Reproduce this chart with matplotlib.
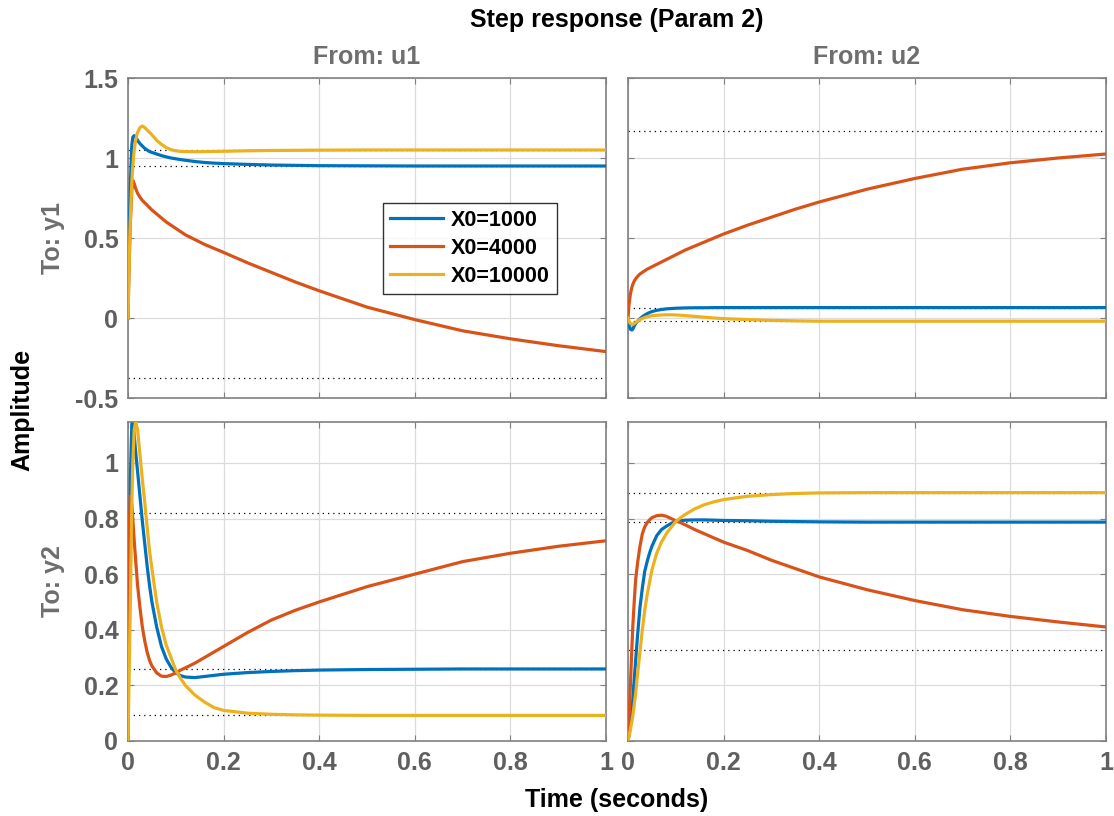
import matplotlib
matplotlib.use("Agg")
import matplotlib.pyplot as plt
import numpy as np

plt.rcParams['font.family'] = ['Liberation Sans', 'DejaVu Sans']
plt.rcParams['font.weight'] = 'bold'

# Simulation time samples (seconds)
t = [0, 0.002, 0.005, 0.008, 0.01, 0.013, 0.016, 0.02, 0.025, 0.03, 0.035,
     0.04, 0.045, 0.05, 0.06, 0.07, 0.08, 0.09, 0.1, 0.11, 0.12, 0.14, 0.16,
     0.18, 0.2, 0.25, 0.3, 0.35, 0.4, 0.5, 0.6, 0.7, 0.8, 0.9, 1.0]

series_labels = ['X0=1000', 'X0=4000', 'X0=10000']
series_colors = ['#0072BD', '#D95319', '#EDB120']
inputs = ['u1', 'u2']
outputs = ['y1', 'y2']

# u1 -> y1
y1_u1_x1000 = [0, 0.45, 0.85, 1.08, 1.13, 1.14, 1.13, 1.11, 1.09, 1.075, 1.06,
               1.05, 1.04, 1.035, 1.025, 1.015, 1.007, 1.0, 0.995, 0.99, 0.986,
               0.978, 0.972, 0.968, 0.965, 0.96, 0.956, 0.954, 0.952, 0.951,
               0.95, 0.95, 0.95, 0.95, 0.95]
y1_u1_x4000 = [0, 0.3, 0.6, 0.8, 0.86, 0.84, 0.81, 0.78, 0.755, 0.735, 0.72,
               0.705, 0.69, 0.675, 0.65, 0.625, 0.60, 0.58, 0.56, 0.54, 0.52,
               0.49, 0.46, 0.435, 0.41, 0.345, 0.285, 0.225, 0.17, 0.068,
               -0.01, -0.08, -0.13, -0.173, -0.21]
y1_u1_x10000 = [0, 0.3, 0.62, 0.85, 0.95, 1.05, 1.11, 1.16, 1.19, 1.20, 1.19,
                1.175, 1.16, 1.145, 1.11, 1.085, 1.065, 1.052, 1.045, 1.041,
                1.04, 1.039, 1.04, 1.041, 1.042, 1.045, 1.047, 1.048, 1.049,
                1.05, 1.05, 1.05, 1.05, 1.05, 1.05]

# u2 -> y1
y1_u2_x1000 = [0, -0.04, -0.07, -0.075, -0.07, -0.05, -0.035, -0.02, -0.005,
               0.008, 0.018, 0.027, 0.034, 0.04, 0.048, 0.053, 0.057, 0.059,
               0.061, 0.062, 0.063, 0.064, 0.064, 0.065, 0.065, 0.065, 0.065,
               0.065, 0.065, 0.065, 0.065, 0.065, 0.065, 0.065, 0.065]
y1_u2_x4000 = [0, 0.08, 0.15, 0.19, 0.21, 0.23, 0.245, 0.26, 0.275, 0.285,
               0.295, 0.305, 0.312, 0.32, 0.335, 0.35, 0.365, 0.38, 0.395,
               0.41, 0.425, 0.45, 0.475, 0.50, 0.525, 0.58, 0.63, 0.68, 0.725,
               0.805, 0.872, 0.93, 0.97, 1.0, 1.025]
y1_u2_x10000 = [0, -0.02, -0.035, -0.04, -0.04, -0.035, -0.028, -0.02, -0.01,
                -0.003, 0.003, 0.008, 0.011, 0.014, 0.017, 0.019, 0.02, 0.02,
                0.019, 0.017, 0.015, 0.01, 0.005, 0.0, -0.004, -0.01, -0.015,
                -0.018, -0.02, -0.02, -0.02, -0.02, -0.02, -0.02, -0.02]

# u1 -> y2
y2_u1_x1000 = [0, 0.45, 0.95, 1.14, 1.14, 1.1, 1.04, 0.97, 0.88, 0.79, 0.71,
               0.63, 0.56, 0.5, 0.41, 0.34, 0.295, 0.265, 0.245, 0.235, 0.23,
               0.228, 0.232, 0.236, 0.24, 0.246, 0.25, 0.253, 0.255, 0.257,
               0.258, 0.259, 0.259, 0.259, 0.259]
y2_u1_x4000 = [0, 0.75, 0.88, 0.85, 0.80, 0.72, 0.65, 0.56, 0.48, 0.41, 0.36,
               0.32, 0.29, 0.27, 0.245, 0.233, 0.232, 0.237, 0.245, 0.255,
               0.263, 0.28, 0.30, 0.32, 0.34, 0.39, 0.435, 0.47, 0.50, 0.555,
               0.60, 0.645, 0.675, 0.70, 0.72]
y2_u1_x10000 = [0, 0.2, 0.5, 0.85, 1.0, 1.12, 1.147, 1.12, 1.03, 0.94, 0.86,
                0.77, 0.685, 0.62, 0.5, 0.41, 0.345, 0.30, 0.255, 0.225, 0.2,
                0.165, 0.14, 0.12, 0.11, 0.1, 0.096, 0.094, 0.093, 0.092,
                0.092, 0.092, 0.092, 0.092, 0.092]

# u2 -> y2
y2_u2_x1000 = [0, 0.02, 0.06, 0.11, 0.15, 0.22, 0.29, 0.38, 0.48, 0.55, 0.61,
               0.645, 0.675, 0.70, 0.738, 0.76, 0.772, 0.782, 0.789, 0.792,
               0.794, 0.795, 0.795, 0.794, 0.793, 0.792, 0.79, 0.789, 0.788,
               0.787, 0.787, 0.787, 0.787, 0.787, 0.787]
y2_u2_x4000 = [0, 0.08, 0.2, 0.33, 0.41, 0.5, 0.58, 0.64, 0.70, 0.745, 0.77,
               0.785, 0.795, 0.803, 0.81, 0.812, 0.808, 0.80, 0.792, 0.785,
               0.777, 0.76, 0.745, 0.73, 0.715, 0.685, 0.65, 0.62, 0.59,
               0.544, 0.505, 0.472, 0.448, 0.428, 0.41]
y2_u2_x10000 = [0, 0.015, 0.04, 0.07, 0.09, 0.13, 0.17, 0.24, 0.32, 0.4, 0.47,
                0.525, 0.57, 0.615, 0.675, 0.715, 0.745, 0.768, 0.789, 0.803,
                0.815, 0.835, 0.85, 0.86, 0.868, 0.88, 0.886, 0.89, 0.892,
                0.893, 0.893, 0.893, 0.893, 0.893, 0.893]

# Steady-state values, one per series, for each channel
steady_y1_u1 = [0.95, -0.375, 1.05]
steady_y1_u2 = [0.065, 1.166, -0.02]
steady_y2_u1 = [0.259, 0.82, 0.092]
steady_y2_u2 = [0.787, 0.326, 0.893]

responses = {
    (0, 0): [y1_u1_x1000, y1_u1_x4000, y1_u1_x10000],
    (0, 1): [y1_u2_x1000, y1_u2_x4000, y1_u2_x10000],
    (1, 0): [y2_u1_x1000, y2_u1_x4000, y2_u1_x10000],
    (1, 1): [y2_u2_x1000, y2_u2_x4000, y2_u2_x10000],
}
steady = {(0, 0): steady_y1_u1, (0, 1): steady_y1_u2,
          (1, 0): steady_y2_u1, (1, 1): steady_y2_u2}

x_ticks = [0, 0.2, 0.4, 0.6, 0.8, 1]
x_ticklabels = ['0', '0.2', '0.4', '0.6', '0.8', '1']
y1_ticks = [-0.5, 0, 0.5, 1, 1.5]
y1_ticklabels = ['-0.5', '0', '0.5', '1', '1.5']
y2_ticks = [0, 0.2, 0.4, 0.6, 0.8, 1]
y2_ticklabels = ['0', '0.2', '0.4', '0.6', '0.8', '1']
y1_limits = (-0.5, 1.5)
y2_limits = (0, 1.147)

tick_gray = '#5f5f5f'
label_gray = '#6e6e6e'
spine_gray = '#808080'

W, H = 1114, 816
fig = plt.figure(figsize=(W / 100, H / 100), dpi=100)

col_x = [128, 628]
col_w = 478
row_y = [78, 422]
row_h = [320, 319]

axes = {}
for r in range(2):
    for c in range(2):
        left = col_x[c] / W
        bottom = 1 - (row_y[r] + row_h[r]) / H
        ax = fig.add_axes([left, bottom, col_w / W, row_h[r] / H])
        axes[(r, c)] = ax
        for k in range(3):
            ax.plot(t, responses[(r, c)][k], color=series_colors[k], lw=2.3,
                    label=series_labels[k], zorder=3)
        for val in steady[(r, c)]:
            ax.axhline(val, color='black', lw=0.9, ls=(0, (1, 3.2)), zorder=2)
        ax.set_xlim(0, 1)
        if r == 0:
            ax.set_ylim(*y1_limits)
            ax.set_yticks(y1_ticks)
            ax.set_yticklabels(y1_ticklabels if c == 0 else [])
        else:
            ax.set_ylim(*y2_limits)
            ax.set_yticks(y2_ticks)
            ax.set_yticklabels(y2_ticklabels if c == 0 else [])
        ax.set_xticks(x_ticks)
        ax.set_xticklabels(x_ticklabels if r == 1 else [])
        ax.grid(True, color='#dcdcdc', lw=0.9, zorder=0)
        ax.set_axisbelow(True)
        ax.tick_params(direction='in', length=4, width=0.8, color=spine_gray,
                       labelcolor=tick_gray, labelsize=18, pad=7,
                       top=True, right=True)
        for lab in ax.get_xticklabels() + ax.get_yticklabels():
            lab.set_fontweight('bold')
        for s in ax.spines.values():
            s.set_color(spine_gray)
            s.set_linewidth(1.2)

leg = axes[(0, 0)].legend(loc='upper left', bbox_to_anchor=(0.533, 0.609),
                          borderaxespad=0, frameon=True, fancybox=False,
                          handlelength=2.5, handletextpad=0.35,
                          labelspacing=0.32, borderpad=0.32,
                          prop={'weight': 'bold', 'size': 15.5})
leg.get_frame().set_edgecolor('black')
leg.get_frame().set_linewidth(1.0)

fig.text(617 / W, 1 - 20 / H, 'Step response (Param 2)', ha='center',
         va='center', fontsize=18, fontweight='bold', color='black')
for c in range(2):
    fig.text((col_x[c] + col_w / 2) / W, 1 - 57 / H, 'From: ' + inputs[c],
             ha='center', va='center', fontsize=18, fontweight='bold',
             color=label_gray)
for r in range(2):
    fig.text(53 / W, 1 - (row_y[r] + row_h[r] / 2) / H, 'To: ' + outputs[r],
             ha='center', va='center', rotation=90, fontsize=18,
             fontweight='bold', color=label_gray)
fig.text(22 / W, 1 - 410 / H, 'Amplitude', ha='center', va='center',
         rotation=90, fontsize=18, fontweight='bold', color='black')
fig.text(617 / W, 1 - 800 / H, 'Time (seconds)', ha='center', va='center',
         fontsize=18, fontweight='bold', color='black')

fig.savefig('out.png', dpi=100, facecolor='white')
